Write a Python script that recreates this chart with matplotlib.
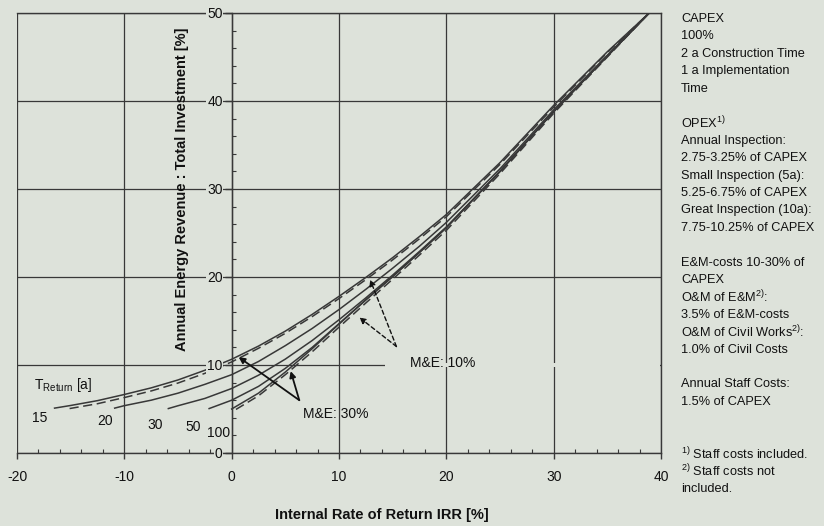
import matplotlib
matplotlib.use("Agg")
import matplotlib.pyplot as plt
from matplotlib.ticker import MultipleLocator
from matplotlib.patches import Rectangle

plt.rcParams['font.family'] = ['Liberation Sans', 'DejaVu Sans']
plt.rcParams['mathtext.fontset'] = 'custom'
plt.rcParams['mathtext.rm'] = 'Liberation Sans'
plt.rcParams['mathtext.it'] = 'Liberation Sans:italic'
plt.rcParams['mathtext.bf'] = 'Liberation Sans:bold'

# --- data: IRR [%] -> revenue/investment [%] ---
irr_15 = [-16.5, -15, -12.5, -10, -7.5, -5, -2.5, 0, 2.5, 5, 7.5, 10, 12.5, 15, 17.5, 20, 25, 30, 35, 38.9]
rev_15 = [5.1, 5.4, 5.95, 6.65, 7.4, 8.3, 9.4, 10.65, 12.15, 13.85, 15.75, 17.8, 19.95, 22.2, 24.6, 27.1, 33.0, 39.5, 45.6, 50.0]

irr_15d = [-15.1, -12.5, -10, -7.5, -5, -2.5, 0, 2.5, 5, 7.5, 10, 12.5, 15, 17.5, 20, 25, 30, 35, 38.9]
rev_15d = [5.05, 5.6, 6.3, 7.05, 7.95, 9.05, 10.35, 11.9, 13.6, 15.5, 17.55, 19.7, 21.95, 24.35, 26.85, 32.8, 39.3, 45.5, 50.0]

irr_20 = [-10.9, -10, -7.5, -5, -2.5, 0, 2.5, 5, 7.5, 10, 12.5, 15, 17.5, 20, 25, 30, 35, 38.9]
rev_20 = [5.1, 5.38, 6.0, 6.8, 7.8, 8.9, 10.4, 12.2, 14.15, 16.3, 18.6, 21.0, 23.5, 26.2, 32.3, 39.0, 45.2, 50.0]

irr_30 = [-5.9, -5, -2.5, 0, 2.5, 5, 7.5, 10, 12.5, 15, 17.5, 20, 25, 30, 35, 38.9]
rev_30 = [5.05, 5.37, 6.2, 7.33, 8.84, 10.67, 12.78, 15.14, 17.63, 20.22, 22.91, 25.69, 32.0, 38.8, 45.1, 50.0]

irr_50 = [-2.1, 0, 2.5, 5, 7.5, 10, 12.5, 15, 17.5, 20, 25, 30, 35, 38.9]
rev_50 = [5.05, 6.0, 7.57, 9.62, 12.0, 14.7, 17.4, 20.05, 22.8, 25.6, 32.0, 38.8, 45.1, 50.0]

irr_100 = [0, 2.5, 5, 7.5, 10, 12.5, 15, 17.5, 20, 25, 30, 35, 38.9]
rev_100 = [5.0, 6.8, 9.2, 11.85, 14.65, 17.4, 20.05, 22.8, 25.6, 32.0, 38.8, 45.1, 50.0]

irr_100d = [0.4, 2.5, 5, 7.5, 10, 12.5, 15, 17.5, 20, 25, 30, 35, 38.9]
rev_100d = [4.95, 6.5, 8.9, 11.5, 14.3, 17.05, 19.75, 22.5, 25.3, 31.75, 38.6, 45.0, 50.0]

t_return = ['15', '20', '30', '50', '100']

x_ticks = [-20, -10, 0, 10, 20, 30, 40]
y_ticks = [0, 10, 20, 30, 40, 50]

notes = ['CAPEX', '100%', '2 a Construction Time', '1 a Implementation', 'Time', '',
         r'OPEX$^{1)}$', 'Annual Inspection:', '2.75-3.25% of CAPEX',
         'Small Inspection (5a):', '5.25-6.75% of CAPEX',
         'Great Inspection (10a):', '7.75-10.25% of CAPEX', '',
         'E&M-costs 10-30% of', 'CAPEX', r'O&M of E&M$^{2)}$:', '3.5% of E&M-costs',
         r'O&M of Civil Works$^{2)}$:', '1.0% of Civil Costs', '',
         'Annual Staff Costs:', '1.5% of CAPEX', '', '',
         r'$^{1)}$ Staff costs included.', r'$^{2)}$ Staff costs not', 'included.']

bg = '#dde2da'
ink = '#111111'
grey = '#383838'

fig = plt.figure(figsize=(8.24, 5.26), dpi=100, facecolor=bg)
ax = fig.add_axes([17 / 824, 73 / 526, 644 / 824, 440 / 526], facecolor=bg)
ax.set_xlim(-20, 40)
ax.set_ylim(0, 50)
ax.set_axisbelow(False)

# curves
ax.plot(irr_15, rev_15, color=grey, lw=1.1)
ax.plot(irr_15d, rev_15d, color=grey, lw=1.1, ls=(0, (6, 3)))
ax.plot(irr_20, rev_20, color=grey, lw=1.1)
ax.plot(irr_30, rev_30, color=grey, lw=1.1)
ax.plot(irr_50, rev_50, color=grey, lw=1.1)
ax.plot(irr_100, rev_100, color=grey, lw=1.1)
ax.plot(irr_100d, rev_100d, color=grey, lw=1.1, ls=(0, (6, 3)))

# axes / grid
ax.spines['left'].set_position(('data', 0))
for sp in ax.spines.values():
    sp.set_color(grey)
    sp.set_linewidth(1.0)
ax.set_xticks(x_ticks, labels=[str(v) for v in x_ticks])
ax.set_yticks(y_ticks, labels=[str(v) for v in y_ticks],
              bbox=dict(facecolor=bg, edgecolor='none', pad=0.6))
ax.xaxis.set_minor_locator(MultipleLocator(2))
ax.yaxis.set_minor_locator(MultipleLocator(2))
ax.grid(True, which='major', color=grey, lw=0.9)
ax.tick_params(axis='x', which='major', direction='out', length=4, width=1,
               pad=8, labelsize=10, colors=grey, labelcolor=ink)
ax.tick_params(axis='x', which='minor', direction='in', length=3, width=0.8, colors=grey)
ax.tick_params(axis='y', which='major', direction='out', length=5, width=1,
               pad=1.5, labelsize=10, colors=grey, labelcolor=ink)
ax.tick_params(axis='y', which='minor', direction='in', length=3, width=0.8, colors=grey)

# gridline at 10 is hidden behind the M&E 10% box
ax.add_patch(Rectangle((14.3, 9.8), 25.6, 0.4, facecolor=bg, edgecolor='none', zorder=2.8))
ax.text(16.6, 10.2, 'M&E: 10%', ha='left', va='center', fontsize=10, color=ink, zorder=3)
for tip in [(12.9, 19.7), (11.9, 15.4)]:
    ax.annotate('', xy=tip, xytext=(15.35, 12.1),
                arrowprops=dict(arrowstyle='-|>', color=ink, lw=1.0, ls=(0, (3, 2)),
                                mutation_scale=9, shrinkA=0, shrinkB=0))

ax.text(9.7, 4.4, 'M&E: 30%', ha='center', va='center', fontsize=10, color=ink)
for tip in [(0.65, 10.9), (5.5, 9.3)]:
    ax.annotate('', xy=tip, xytext=(6.3, 6.0),
                arrowprops=dict(arrowstyle='-|>', color=ink, lw=1.3,
                                mutation_scale=9, shrinkA=0, shrinkB=0))

# lifetime labels
ax.text(-18.4, 7.7, r'T$_{\mathrm{Return}}$ [a]', ha='left', va='center', fontsize=10, color=ink)
label_pos = [(-17.9, 4.0), (-11.8, 3.6), (-7.1, 3.2), (-3.6, 3.0), (-1.2, 2.3)]
for txt, (lx, ly) in zip(t_return, label_pos):
    ax.text(lx, ly, txt, ha='center', va='center', fontsize=10, color=ink)

# axis titles
fig.text(382 / 824, 1 - 515 / 526, 'Internal Rate of Return IRR [%]', ha='center', va='center',
         fontsize=10.5, fontweight='bold', color=ink)
fig.text(182 / 824, 1 - 189 / 526, 'Annual Energy Revenue : Total Investment [%]', ha='center',
         va='center', rotation=90, fontsize=10.5, fontweight='bold', color=ink)

# side notes
for i, line in enumerate(notes):
    if line:
        fig.text(681 / 824, 1 - (19 + 17.4 * i) / 526, line, ha='left', va='center',
                 fontsize=9.2, color=ink)

fig.savefig('out.png', dpi=100, facecolor=bg)
